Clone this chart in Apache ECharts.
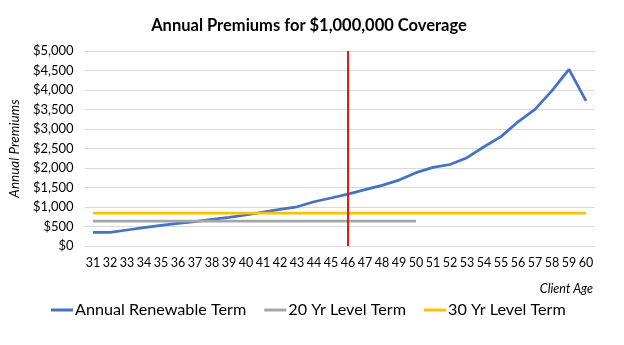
<!DOCTYPE html>
<html><head><meta charset="utf-8">
<script src="https://cdn.jsdelivr.net/npm/echarts@6/dist/echarts.min.js"></script>
<style>html,body{margin:0;padding:0;background:#fff}#c{width:624px;height:345px}</style>
</head><body><div id="c"></div>
<script>
const ages = ['31','32','33','34','35','36','37','38','39','40','41','42','43','44','45','46','47','48','49','50','51','52','53','54','55','56','57','58','59','60'];
const annualRenewable = [350,350,410,470,530,580,625,685,735,795,870,940,1005,1135,1230,1330,1445,1555,1690,1880,2015,2090,2265,2545,2805,3185,3505,3985,4530,3720];
const level20 = [640,640,640,640,640,640,640,640,640,640,640,640,640,640,640,640,640,640,640,640];
const level30 = [840,840,840,840,840,840,840,840,840,840,840,840,840,840,840,840,840,840,840,840,840,840,840,840,840,840,840,840,840,840];
const currentAge = '46';
const yTicks = {min:0, max:5000, interval:500};

const font = 'Lato, "Open Sans", sans-serif';
const chart = echarts.init(document.getElementById('c'));
chart.setOption({
  animation:false,
  title:[
    {text:'Annual Premiums for $1,000,000 Coverage', left:304, top:12, textAlign:'center',
     textStyle:{fontFamily:font, fontSize:16.5, fontWeight:'bold', color:'#000'}},
    {text:'Client Age', right:26, top:277,
     textStyle:{fontFamily:font, fontSize:12.5, fontStyle:'italic', fontWeight:'normal', color:'#000'}}
  ],
  legend:{
    left:46, top:297, itemWidth:22, itemHeight:3, itemGap:18, icon:'rect',
    textStyle:{fontFamily:font, fontSize:16.2, color:'#000', padding:[0,0,0,-3]},
    data:['Annual Renewable Term','20 Yr Level Term','30 Yr Level Term']
  },
  grid:{left:80.5, right:29.5, top:51, bottom:99},
  xAxis:{type:'category', data:ages, boundaryGap:true,
    axisLine:{show:true, lineStyle:{color:'#D9D9D9'}}, axisTick:{show:false},
    axisLabel:{interval:0, fontFamily:font, fontSize:12.5, color:'#000', margin:10}},
  yAxis:{type:'value', min:yTicks.min, max:yTicks.max, interval:yTicks.interval,
    name:'Annual Premiums', nameLocation:'middle', nameGap:52, nameRotate:90,
    nameTextStyle:{fontFamily:font, fontSize:13.5, fontStyle:'italic', color:'#000'},
    axisLine:{show:false}, axisTick:{show:false},
    splitLine:{lineStyle:{color:'#D9D9D9', width:1}},
    axisLabel:{fontFamily:font, fontSize:13, color:'#000', margin:11,
      formatter:v=>'$'+v.toLocaleString('en-US')}},
  series:[
    {name:'Annual Renewable Term', type:'line', data:annualRenewable, showSymbol:false, symbol:'none',
     lineStyle:{color:'#4472C4', width:2.75}, itemStyle:{color:'#4472C4'},
     markLine:{silent:true, symbol:'none', label:{show:false},
       lineStyle:{color:'#E8141B', width:2, type:'solid'},
       data:[{xAxis:currentAge}]}},
    {name:'20 Yr Level Term', type:'line', data:level20, showSymbol:false, symbol:'none',
     lineStyle:{color:'#A5A5A5', width:2.75}, itemStyle:{color:'#A5A5A5'}},
    {name:'30 Yr Level Term', type:'line', data:level30, showSymbol:false, symbol:'none',
     lineStyle:{color:'#FFC000', width:2.75}, itemStyle:{color:'#FFC000'}}
  ]
});
</script></body></html>
